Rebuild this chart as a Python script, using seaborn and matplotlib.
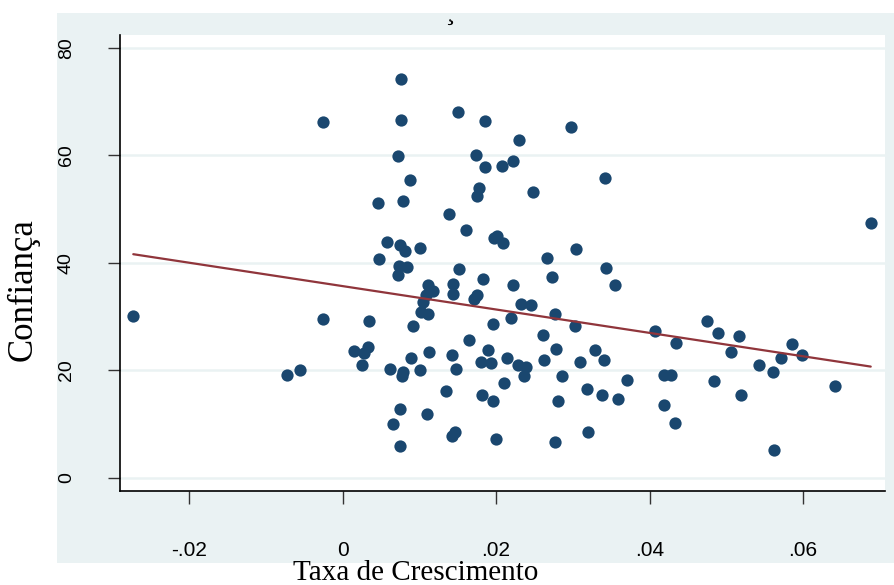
import matplotlib
matplotlib.use("Agg")
import matplotlib.pyplot as plt
import seaborn as sns
import numpy as np
import pandas as pd

# ---- data ----
taxa = [
    -0.02727, -0.00728, -0.00551, -0.00251, -0.00259, 0.00149, 0.00257, 0.00279, 0.00331, 0.00340,
    0.00465, 0.00478, 0.00585, 0.00615, 0.00663, 0.00757, 0.00757, 0.00726, 0.00878, 0.00783,
    0.00748, 0.00813, 0.01008, 0.00735, 0.00835, 0.00726, 0.00921, 0.00887, 0.00791, 0.00770,
    0.01008, 0.00748, 0.00748, 0.01119, 0.01182, 0.01087, 0.01051, 0.01019, 0.01113, 0.01122,
    0.01104, 0.01351, 0.01382, 0.01445, 0.01438, 0.01429, 0.01481, 0.01468, 0.01425, 0.01504,
    0.01517, 0.01610, 0.01650, 0.01742, 0.01773, 0.01755, 0.01825, 0.01745, 0.01709, 0.01799,
    0.01859, 0.01851, 0.01898, 0.01930, 0.01816, 0.01964, 0.01960, 0.02008, 0.01973, 0.01999,
    0.02077, 0.02094, 0.02103, 0.02138, 0.02220, 0.02216, 0.02194, 0.02285, 0.02393, 0.02360,
    0.02302, 0.02328, 0.02455, 0.02481, 0.02607, 0.02620, 0.02663, 0.02728, 0.02767, 0.02777,
    0.02803, 0.02767, 0.02859, 0.02972, 0.03032, 0.03045, 0.03093, 0.03180, 0.03193, 0.03293,
    0.03384, 0.03410, 0.03419, 0.03428, 0.03549, 0.03592, 0.03702, 0.04066, 0.04188, 0.04275,
    0.04194, 0.04334, 0.04340, 0.04752, 0.04891, 0.05169, 0.05065, 0.04839, 0.05191, 0.05422,
    0.05612, 0.05708, 0.05859, 0.05990, 0.05621, 0.06416, 0.06881,
]
confianca = [
    30.04, 19.03, 19.97, 66.13, 29.48, 23.64, 20.97, 23.27, 24.26, 29.24,
    51.20, 40.72, 43.85, 20.25, 10.08, 74.21, 66.56, 59.84, 55.37, 51.45,
    43.29, 42.12, 42.81, 39.45, 39.19, 37.73, 28.27, 22.21, 19.67, 18.92,
    20.00, 12.82, 5.86, 35.90, 34.84, 33.96, 32.66, 30.86, 30.55, 23.36,
    11.89, 16.12, 49.15, 35.96, 34.28, 22.80, 20.32, 8.43, 7.78, 68.00,
    38.85, 46.13, 25.66, 60.09, 54.00, 52.38, 36.95, 34.09, 33.25, 21.46,
    66.37, 57.79, 23.70, 21.35, 15.43, 14.31, 28.55, 44.97, 44.60, 7.17,
    58.03, 43.61, 17.54, 22.28, 58.91, 35.83, 29.74, 21.03, 20.60, 18.98,
    62.89, 32.36, 32.10, 53.18, 26.57, 21.83, 40.81, 37.40, 30.49, 23.96,
    14.18, 6.72, 18.85, 65.20, 28.31, 42.55, 21.46, 16.50, 8.53, 23.77,
    15.30, 21.83, 55.74, 39.09, 35.83, 14.69, 18.10, 27.32, 19.16, 19.07,
    13.53, 10.15, 25.04, 29.11, 26.95, 26.44, 23.40, 17.91, 15.30, 20.90,
    19.67, 22.21, 24.95, 22.77, 5.11, 17.11, 47.40,
]
x_ticks = [-0.02, 0.0, 0.02, 0.04, 0.06]
x_tick_labels = ["-.02", "0", ".02", ".04", ".06"]
y_ticks = [0, 20, 40, 60, 80]
y_tick_labels = ["0", "20", "40", "60", "80"]

df = pd.DataFrame({"Taxa de Crescimento": taxa, "Confiança": confianca})

sns.set_theme(style="white")
plt.rcParams["font.family"] = ["Liberation Sans", "DejaVu Sans"]

W, H = 894, 585
fig = plt.figure(figsize=(W / 100, H / 100), dpi=100, facecolor="white")

panel_col = "#eaf2f3"
# light outer panel (Stata-like graph region) as a background axes
bg = fig.add_axes([57 / W, 1 - 563 / H, (W - 57) / W, (563 - 13) / H], zorder=0)
bg.set_facecolor(panel_col)
bg.set_xticks([])
bg.set_yticks([])
for s in bg.spines.values():
    s.set_visible(False)

ax = fig.add_axes([120 / W, 1 - 491 / H, (885 - 120) / W, (491 - 35) / H], zorder=1)
ax.set_facecolor("white")

# grid lines
for yv in y_ticks:
    ax.axhline(yv, color=panel_col, lw=1.8, zorder=0)

sns.scatterplot(data=df, x="Taxa de Crescimento", y="Confiança", ax=ax,
                color="#1a476f", s=78, linewidth=0, zorder=3)
sns.regplot(data=df, x="Taxa de Crescimento", y="Confiança", ax=ax,
            scatter=False, ci=None, truncate=True,
            line_kws={"color": "#90353b", "lw": 1.6, "zorder": 4})

ax.set_xlim(-0.0290, 0.07067)
ax.set_ylim(-2.48, 82.4)

ax.set_xticks(x_ticks)
ax.set_xticklabels(x_tick_labels)
ax.set_yticks(y_ticks)
ax.set_yticklabels(y_tick_labels, rotation=90, va="center")

ax.tick_params(axis="x", direction="out", length=9, width=1, color="#333333",
               pad=27, labelsize=15, labelcolor="black", bottom=True)
ax.tick_params(axis="y", direction="out", length=8.5, width=1, color="#333333",
               pad=24, labelsize=14, labelcolor="black", left=True)

for side in ["top", "right"]:
    ax.spines[side].set_visible(False)
for side in ["left", "bottom"]:
    ax.spines[side].set_visible(True)
    ax.spines[side].set_color("black")
    ax.spines[side].set_linewidth(1.2)

ax.set_xlabel("Taxa de Crescimento", family=["Liberation Serif", "DejaVu Serif"],
              fontsize=21, color="black")
ax.set_ylabel("Confiança", family=["Liberation Serif", "DejaVu Serif"],
              fontsize=25, color="black")
ax.xaxis.set_label_coords((416 - 120) / 765, (491 - 573) / 456)
ax.xaxis.label.set_va("center")
ax.yaxis.set_label_coords((23 - 120) / 765, (491 - 290) / 456)
ax.yaxis.label.set_va("center")

# remnant of the title cut off above the image: only its cedilla shows
fig.text(450 / W, 1 - 0.5 / H, "\u00b8", ha="center", va="top",
         family=["Liberation Serif", "DejaVu Serif"], fontsize=20, color="black")

fig.savefig("out.png", dpi=100, facecolor="white")
